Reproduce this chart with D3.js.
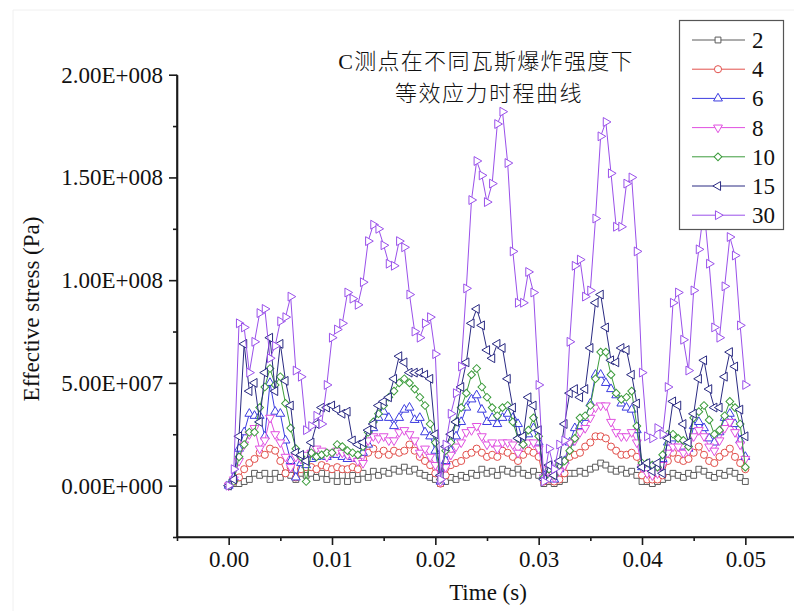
<!DOCTYPE html>
<html>
<head>
<meta charset="utf-8">
<script src="https://cdn.jsdelivr.net/npm/d3@7"></script>
<style>
  body { margin: 0; background: #fff; }
  svg { display: block; }
  text { font-family: "Liberation Serif", "Times New Roman", serif; fill: #111; }
  .cjk { font-family: "Liberation Serif", "Noto Sans CJK SC", serif; font-weight: 300; }
</style>
</head>
<body>
<svg id="chart" width="794" height="611"></svg>
<script>
// sampling grid of the simulation output (s)
var timeStep = 0.0005;
var times = d3.range(101).map(function(i) { return i * timeStep; });

// effective stress, MPa
var stress2 = [0,1,1,2,3,6,5,6,3,6, 4,6,5,3,6,5,6,4,6,3, 5,2,5,2,5,3,6,4,7,5,
  7,6,8,7,9,7,8,6,5,4, 3,1,2,4,3,5,4,6,5,8, 6,7,5,8,7,6,8,6,5,7,
  5,1,2,1,2,3,6,6,7,6, 8,9,11,10,8,7,8,6,7,5, 2,2,1,2,3,4,6,5,4,6,
  5,8,7,5,4,6,5,7,6,4, 2];
var stress4 = [0,2,4,8,11,13,16,15,18,17, 12,6,9,4,8,9,9,8,10,9, 8,9,8,8,9,8,13,16,18,15,
  17,15,17,16,17,20,17,14,12,10, 6,1,5,10,11,12,15,16,18,16, 14,15,14,17,16,14,12,15,17,16,
  14,2,3,2,3,6,14,15,16,19, 21,24,24,23,19,17,15,15,16,14, 5,3,3,3,5,12,16,13,12,13,
  16,19,15,12,11,14,16,18,14,11, 8];
var stress6 = [0,4,18,26,35,34,34,24,50,36, 35,22,12,4,11,10,13,14,15,14, 15,15,14,13,14,13,16,20,28,33,
  36,33,29,33,37,38,32,33,26,24, 17,2,12,17,24,31,38,42,44,37, 31,33,30,33,35,33,30,21,25,28,
  21,5,6,3,8,12,21,28,29,33, 40,54,54,50,47,44,40,38,37,27, 9,8,7,8,13,21,23,21,19,18,
  29,31,28,23,21,26,33,35,30,22, 14];
var stress8 = [0,3,12,20,25,28,18,22,33,25, 21,14,9,14,13,15,16,18,17,14, 16,17,16,15,14,12,11,22,24,23,
  24,22,22,26,27,25,22,16,18,14, 10,2,9,15,19,21,26,27,29,24, 20,21,18,21,21,20,16,20,21,21,
  18,4,8,4,7,10,21,22,26,28, 33,38,39,39,31,26,24,24,26,21, 9,6,5,6,10,16,19,19,16,17,
  24,27,24,19,17,22,28,31,26,20, 13];
var stress10 = [0,2,14,20,26,26,38,48,57,49, 53,40,28,18,14,2,16,14,15,16, 16,20,19,17,16,15,19,26,31,35,
  39,43,46,50,52,50,47,43,39,30, 21,3,17,21,31,38,45,54,57,48, 43,38,34,38,39,31,23,20,27,33,
  24,4,8,5,10,12,17,23,33,34, 39,52,65,65,54,45,42,43,46,29, 11,11,10,9,15,25,25,23,22,19,
  33,36,39,32,25,27,34,41,38,30, 9];
var stress15 = [0,3,24,69,46,50,31,55,72,46, 69,51,39,16,15,12,21,30,38,38, 39,37,35,36,22,20,21,27,30,39,
  41,43,52,63,60,55,55,55,54,52, 25,5,19,25,31,48,60,79,86,78, 66,62,69,67,52,38,23,24,43,39,
  27,3,10,5,12,30,45,47,43,47, 67,89,93,77,61,60,67,66,54,40, 9,11,7,11,6,23,41,39,30,21,
  35,52,61,47,38,38,53,65,58,37, 24];
var stress30 = [0,8,79,77,55,70,84,86,62,68, 80,82,92,56,53,27,29,34,30,49, 72,76,79,94,91,88,99,119,127,125,
  117,108,107,119,116,93,75,72,79,82, 64,3,20,35,45,58,96,139,158,151, 138,147,176,182,157,114,89,89,104,94,
  49,2,18,8,20,22,70,107,110,92, 95,130,170,177,152,126,126,147,150,114, 55,24,23,28,25,48,89,94,71,56,
  95,115,135,108,77,72,97,121,112,78, 49];

var seriesNames = ["2", "4", "6", "8", "10", "15", "30"];
var seriesValues = [stress2, stress4, stress6, stress8, stress10, stress15, stress30];
var seriesColors = ["#5a5a5a", "#e2504c", "#3c3ce0", "#e050e0", "#3c9c3c", "#2a2a82", "#9a50ea"];
var seriesShapes = ["square", "circle", "up", "down", "diamond", "left", "right"];

var xTicks = [0, 0.01, 0.02, 0.03, 0.04, 0.05];
var yTicks = [0, 5e7, 1e8, 1.5e8, 2e8];

var svg = d3.select("#chart");

// faint frame of the original figure
svg.append("path").attr("d", "M13,611V10H794").attr("fill", "none")
  .attr("stroke", "#f0f0f0").attr("stroke-width", 1);

var x = d3.scaleLinear().domain([-0.005, 0.055]).range([177, 797]);
var y = d3.scaleLinear().domain([-2.5e7, 2e8]).range([537, 74.7]);

function sciLabel(v) {
  var parts = v.toExponential(2).split("e");
  var ex = Math.abs(+parts[1]);
  return parts[0] + "E+" + d3.format("03d")(ex);
}

// axes
var xAxis = svg.append("g").attr("transform", "translate(0,537)")
  .call(d3.axisBottom(x).tickValues(xTicks).tickFormat(d3.format(".2f")).tickSize(8).tickPadding(6));
var xMinor = svg.append("g").attr("transform", "translate(0,537)")
  .call(d3.axisBottom(x).tickValues([-0.005, 0.005, 0.015, 0.025, 0.035, 0.045]).tickFormat("").tickSize(4).tickSizeOuter(0));
var yAxis = svg.append("g").attr("transform", "translate(177,0)")
  .call(d3.axisLeft(y).tickValues(yTicks).tickFormat(sciLabel).tickSize(8).tickPadding(6).tickSizeOuter(0));
var yMinor = svg.append("g").attr("transform", "translate(177,0)")
  .call(d3.axisLeft(y).tickValues([-2.5e7, 2.5e7, 7.5e7, 1.25e8, 1.75e8]).tickFormat("").tickSize(4).tickSizeOuter(0));

[xAxis, xMinor, yAxis, yMinor].forEach(function(g) {
  g.select(".domain").attr("stroke", "#1a1a1a").attr("stroke-width", 1.6);
  g.selectAll(".tick line").attr("stroke", "#1a1a1a").attr("stroke-width", 1.6);
  g.selectAll(".tick text").style("font-family", "'Liberation Serif', serif")
    .style("font-size", "23px").attr("fill", "#111");
});
xAxis.select(".domain").attr("d", "M177,0H797");
yAxis.select(".domain").attr("d", "M0,537V" + y(2e8));

// axis titles
svg.append("text").attr("x", 488).attr("y", 600).attr("text-anchor", "middle")
  .style("font-size", "23px").text("Time (s)");
svg.append("text").attr("transform", "translate(39,309) rotate(-90)").attr("text-anchor", "middle")
  .style("font-size", "23px").text("Effective stress (Pa)");

// chart title
svg.append("text").attr("class", "cjk").attr("x", 486).attr("y", 69).attr("text-anchor", "middle")
  .style("font-size", "22px").style("letter-spacing", "1.3px").text("C测点在不同瓦斯爆炸强度下");
svg.append("text").attr("class", "cjk").attr("x", 489).attr("y", 101).attr("text-anchor", "middle")
  .style("font-size", "22px").style("letter-spacing", "1.5px").text("等效应力时程曲线");

function symbolPath(shape) {
  if (shape === "square") return d3.symbol(d3.symbolSquare, 34)();
  if (shape === "circle") return d3.symbol(d3.symbolCircle, 40)();
  if (shape === "diamond") return d3.symbol(d3.symbolSquare, 30)();
  return d3.symbol(d3.symbolTriangle, 34)();
}
function symbolRotate(shape) {
  return { diamond: 45, up: 0, down: 180, left: -90, right: 90 }[shape] || 0;
}

var line = d3.line()
  .x(function(d) { return x(d.t); })
  .y(function(d) { return y(d.v * 1e6); });

seriesNames.forEach(function(name, k) {
  var pts = seriesValues[k].map(function(v, i) { return { t: times[i], v: v }; });
  var g = svg.append("g");
  g.append("path").datum(pts).attr("d", line).attr("fill", "none")
    .attr("stroke", seriesColors[k]).attr("stroke-width", 1);
  g.selectAll("path.mk").data(pts).enter().append("path").attr("class", "mk")
    .attr("d", symbolPath(seriesShapes[k]))
    .attr("transform", function(d) {
      return "translate(" + x(d.t) + "," + y(d.v * 1e6) + ") rotate(" + symbolRotate(seriesShapes[k]) + ")";
    })
    .attr("fill", "#fff").attr("stroke", seriesColors[k]).attr("stroke-width", 1);
});

// legend
var legend = svg.append("g");
legend.append("rect").attr("x", 679.5).attr("y", 20.5).attr("width", 104).attr("height", 209)
  .attr("fill", "#fff").attr("stroke", "#555").attr("stroke-width", 1.2);
seriesNames.forEach(function(name, k) {
  var ly = 40 + k * 29.2;
  legend.append("line").attr("x1", 692).attr("x2", 745).attr("y1", ly).attr("y2", ly)
    .attr("stroke", seriesColors[k]).attr("stroke-width", 1);
  legend.append("path").attr("d", symbolPath(seriesShapes[k]))
    .attr("transform", "translate(718," + ly + ") rotate(" + symbolRotate(seriesShapes[k]) + ")")
    .attr("fill", "#fff").attr("stroke", seriesColors[k]).attr("stroke-width", 1);
  legend.append("text").attr("x", 752).attr("y", ly + 8).style("font-size", "23px").text(name);
});
</script>
</body>
</html>
